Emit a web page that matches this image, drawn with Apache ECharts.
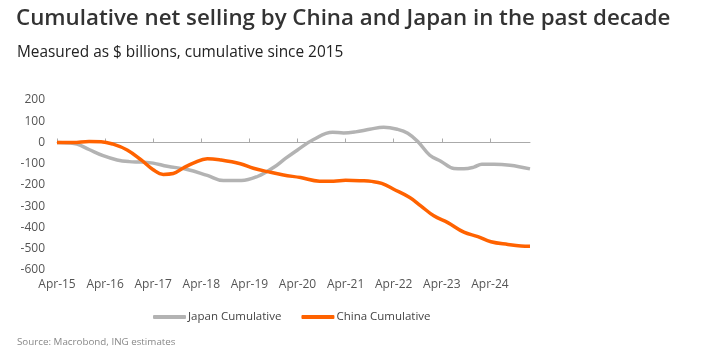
<!DOCTYPE html>
<html><head><meta charset="utf-8">
<script src="https://cdn.jsdelivr.net/npm/echarts@6/dist/echarts.min.js"></script>
<style>html,body{margin:0;padding:0;background:#fff}#c{width:708px;height:356px}</style>
</head><body><div id="c"></div>
<script>
// x = months since Apr-2015
const tickMonths = [0,12,24,36,48,60,72,84,96,108];
const tickLabels = ['Apr-15','Apr-16','Apr-17','Apr-18','Apr-19','Apr-20','Apr-21','Apr-22','Apr-23','Apr-24'];
const yTicks = [200,100,0,-100,-200,-300,-400,-500,-600];
const japan = [[0,0],[3,-2],[5,-8],[8,-33],[11.5,-62],[15,-82],[18,-90],[21,-92],[24,-97],[27.5,-112],[32.5,-127],[37.5,-155],[41.5,-179],[46,-179],[50,-160],[54,-118],[57,-75],[60,-35],[64,14],[68.75,48],[71.5,45],[74.5,50],[78,62],[81.5,72],[85,62],[87.5,44],[90,5],[93,-60],[95.75,-88],[99,-122],[101.5,-124],[104,-116],[106,-102],[109,-102],[113,-107],[118,-124]];
const china = [[0,0],[4,0],[8,5],[11,4],[14,-8],[17.5,-35],[21,-82],[24,-128],[26.5,-150],[29,-146],[31.5,-120],[34,-97],[37.5,-76],[40.75,-82],[45.75,-100],[49,-121],[52.5,-137],[56.5,-153],[60.75,-165],[65.5,-182],[69,-182],[72,-178],[76,-180],[78.5,-183],[81,-192],[84,-220],[88,-259],[90.75,-298],[94,-345],[97.5,-377],[101.5,-422],[105,-443],[108.25,-467],[112.5,-480],[115.75,-487],[118,-488]];

const chart = echarts.init(document.getElementById('c'));
const font = '"Open Sans", sans-serif';
chart.setOption({
  animation:false,
  textStyle:{fontFamily:font},
  title:[
    {text:'Cumulative net selling by China and Japan in the past decade',left:11,top:3,
     textStyle:{fontFamily:font,fontSize:22.3,fontWeight:600,color:'#333'}},
    {text:'Measured as $ billions, cumulative since 2015',left:12,top:40,
     textStyle:{fontFamily:font,fontSize:15.4,fontWeight:'normal',color:'#222'}},
    {text:'Source: Macrobond, ING estimates',left:12,top:332,
     textStyle:{fontFamily:font,fontSize:9.8,fontWeight:'normal',color:'#888'}}
  ],
  legend:{bottom:28,left:148,itemWidth:33,itemHeight:4,icon:'roundRect',itemGap:20,
    textStyle:{fontFamily:font,fontSize:11.5,color:'#444',padding:[0,0,0,-3]},
    data:['Japan Cumulative','China Cumulative']},
  grid:{left:57,right:178,top:100,bottom:86},
  xAxis:[
    {type:'value',min:0,max:118,interval:12,
     axisLine:{show:false,onZero:false},axisTick:{show:false},splitLine:{show:false},
     axisLabel:{color:'#555',fontSize:12,margin:9,customValues:tickMonths,
       formatter:v=>{const i=tickMonths.indexOf(v);return i>=0?tickLabels[i]:'';}}},
    {type:'value',min:0,max:118,interval:12,
     axisLine:{show:true,onZero:true,lineStyle:{color:'#aaa',width:1}},
     axisTick:{show:true,length:4,lineStyle:{color:'#aaa'},customValues:tickMonths},
     axisLabel:{show:false},splitLine:{show:false}}
  ],
  yAxis:{type:'value',min:-600,max:200,interval:100,
    axisLine:{show:false},axisTick:{show:false},splitLine:{show:false},
    axisLabel:{color:'#555',fontSize:12,margin:12,customValues:yTicks}},
  series:[
    {name:'Japan Cumulative',type:'line',data:japan,smooth:0.4,symbol:'none',
     lineStyle:{color:'#b3b3b3',width:3.5},itemStyle:{color:'#b3b3b3'}},
    {name:'China Cumulative',type:'line',data:china,smooth:0.4,symbol:'none',
     lineStyle:{color:'#ff6200',width:3.5},itemStyle:{color:'#ff6200'}}
  ]
});
</script></body></html>
